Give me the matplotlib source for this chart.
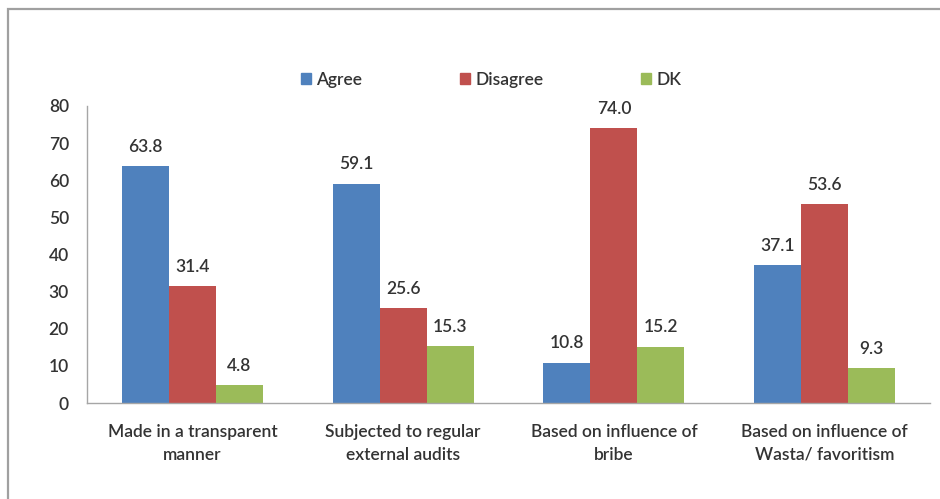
import matplotlib
matplotlib.use("Agg")
import matplotlib.pyplot as plt
import numpy as np
from matplotlib.patches import Rectangle, Patch

categories = ["Made in a transparent\nmanner", "Subjected to regular\nexternal audits",
              "Based on influence of\nbribe", "Based on influence of\nWasta/ favoritism"]
series_names = ["Agree", "Disagree", "DK"]
agree = [63.8, 59.1, 10.8, 37.1]
disagree = [31.4, 25.6, 74.0, 53.6]
dk = [4.8, 15.3, 15.2, 9.3]
yticks = [0, 10, 20, 30, 40, 50, 60, 70, 80]

colors = ["#4F81BD", "#C0504D", "#9BBB59"]
txt = "#333333"
plt.rcParams['font.family'] = ['Lato', 'DejaVu Sans']
FW = "semibold"

W, H = 940, 499
fig = plt.figure(figsize=(W/100, H/100), dpi=100)
fig.patch.set_facecolor("white")

# outer border
fig.patches.append(Rectangle((8/W, -0.1), 1.2, (H-9)/H + 0.1, transform=fig.transFigure,
                             fill=False, edgecolor="#a0a0a0", linewidth=1.6))

ax = fig.add_axes([87/W, (H-403)/H, (930-87)/W, (403-106)/H])
x = np.arange(len(categories))
bw = 0.223
for i, (vals, name) in enumerate(zip([agree, disagree, dk], series_names)):
    pos = x + (i-1)*bw
    ax.bar(pos, vals, width=bw, color=colors[i], label=name, linewidth=0)
    for p, v in zip(pos, vals):
        ax.annotate(f"{v:.1f}", (p, v), xytext=(0, 14), textcoords="offset points",
                    ha="center", va="center", fontsize=12.5, color=txt, fontweight=FW)

ax.set_xlim(-0.5, len(categories)-0.5)
ax.set_ylim(0, 80)
ax.set_yticks(yticks)
ax.set_yticklabels([str(t) for t in yticks], fontsize=12.5, color=txt, fontweight=FW)
ax.set_xticks(x)
ax.set_xticklabels(categories, fontsize=12.5, color=txt, linespacing=1.55, fontweight=FW)
ax.tick_params(axis="y", length=0, pad=13)
ax.tick_params(axis="x", length=0, pad=15)
for s in ["top", "right"]:
    ax.spines[s].set_visible(False)
ax.spines["left"].set_color("#a6a6a6")
ax.spines["bottom"].set_color("#a6a6a6")
ax.spines["left"].set_linewidth(1)
ax.spines["bottom"].set_linewidth(1)

handles = [Patch(color=c, label=n) for c, n in zip(colors, series_names)]
leg = fig.legend(handles=handles, loc="center", bbox_to_anchor=(491/W, (H-80)/H), ncol=3,
                 frameon=False, handlelength=0.6, handleheight=0.6,
                 handletextpad=0.3, columnspacing=5.6, labelcolor=txt,
                 prop={'weight': FW, 'size': 12.5})

fig.savefig("out.png", dpi=100, facecolor="white")
